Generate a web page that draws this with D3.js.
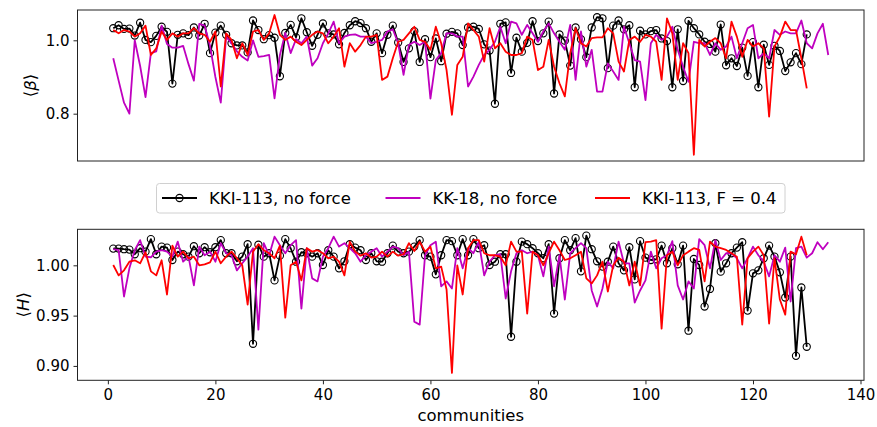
<!DOCTYPE html>
<html>
<head>
<meta charset="utf-8">
<script src="https://cdn.jsdelivr.net/npm/d3@7"></script>
<style>
  body { margin: 0; background: #fff; }
  text { font-family: "DejaVu Sans", sans-serif; fill: #000; }
</style>
</head>
<body>
<div id="chart"></div>
<script>
// Values, community index starts at 1
const betaKKI113 = [1.033, 1.041, 1.031, 1.032, 1.013, 1.048, 1.001, 0.995, 1.012, 1.037,
  1.023, 0.882, 1.015, 1.019, 1.014, 1.035, 1.013, 1.045, 0.965, 1.021,
  1.040, 1.015, 0.992, 0.986, 0.986, 0.967, 1.054, 1.028, 1.003, 1.014,
  1.007, 0.902, 1.020, 1.042, 1.008, 1.060, 1.022, 0.985, 1.015, 1.046,
  1.019, 1.016, 0.989, 1.020, 1.041, 1.052, 1.047, 1.033, 0.996, 1.019,
  0.965, 1.015, 1.040, 0.994, 0.941, 0.978, 1.025, 0.941, 1.003, 0.954,
  1.005, 0.943, 1.018, 1.023, 1.019, 0.987, 1.035, 1.037, 1.031, 0.989,
  0.972, 0.827, 1.045, 1.049, 0.911, 1.007, 0.969, 0.993, 1.052, 0.998,
  1.019, 1.051, 0.855, 1.016, 0.999, 0.931, 1.035, 1.003, 0.954, 1.035,
  1.063, 1.060, 0.924, 1.040, 1.054, 1.030, 1.041, 0.872, 1.026, 1.016,
  1.025, 1.028, 1.005, 0.998, 0.872, 1.030, 0.889, 1.053, 1.033, 1.016,
  0.996, 0.990, 0.969, 1.043, 0.932, 0.951, 0.930, 0.980, 0.903, 0.995,
  0.872, 0.988, 0.933, 0.985, 0.971, 0.916, 0.940, 0.965, 0.935, 1.016];

const betaKK18 = [0.951, 0.890, 0.830, 0.800, 1.000, 0.930, 0.845, 0.965, 0.970, 1.040,
  0.990, 0.980, 0.980, 0.985, 0.935, 0.890, 1.045, 1.040, 0.985, 0.900,
  0.830, 1.010, 0.992, 0.970, 0.955, 0.945, 1.000, 0.955, 0.957, 0.960,
  0.842, 0.960, 1.020, 0.965, 1.003, 0.992, 1.010, 0.931, 0.951, 0.992,
  1.019, 1.051, 0.992, 1.010, 1.015, 1.016, 1.010, 1.010, 0.992, 0.996,
  1.001, 1.024, 1.030, 0.992, 0.906, 0.987, 0.996, 0.987, 0.996, 0.841,
  0.946, 0.965, 1.019, 1.019, 1.010, 1.010, 0.874, 0.901, 0.933, 0.960,
  0.974, 0.996, 1.037, 0.992, 1.051, 1.046, 1.015, 1.042, 1.019, 0.996,
  1.024, 1.046, 1.019, 0.996, 0.974, 1.042, 0.892, 1.024, 0.928, 0.974,
  0.860, 0.860, 0.937, 0.915, 0.892, 1.037, 0.992, 0.946, 0.942, 0.837,
  0.992, 1.015, 1.001, 1.010, 1.037, 0.974, 0.928, 0.887, 0.996, 0.992,
  0.992, 0.960, 0.992, 0.974, 0.983, 1.010, 0.951, 0.992, 1.033, 1.042,
  0.951, 0.965, 0.951, 1.028, 1.015, 1.024, 1.019, 1.019, 1.054, 0.992,
  0.978, 1.019, 1.045, 0.960];

const betaKKI113F = [1.028, 1.019, 1.028, 1.024, 1.010, 1.019, 1.040, 0.960, 0.978, 1.024,
  1.001, 1.019, 1.010, 1.019, 1.019, 1.033, 1.019, 1.015, 0.996, 1.024,
  0.874, 1.019, 1.001, 0.951, 0.992, 0.960, 1.024, 1.028, 1.001, 1.019,
  1.069, 1.015, 1.001, 1.010, 0.996, 0.987, 1.001, 1.015, 1.024, 1.019,
  0.992, 1.010, 1.033, 0.928, 0.992, 0.969, 0.987, 1.010, 1.010, 1.015,
  0.892, 0.901, 0.951, 0.996, 1.001, 1.019, 1.037, 1.001, 0.996, 0.974,
  1.037, 0.992, 0.919, 0.797, 0.933, 0.955, 1.046, 1.028, 1.010, 0.942,
  1.033, 0.978, 0.992, 0.969, 0.960, 0.960, 0.965, 1.010, 1.001, 0.919,
  0.928, 1.001, 0.928, 0.883, 0.847, 0.965, 1.033, 0.992, 0.983, 1.006,
  1.008, 1.008, 1.033, 1.019, 0.942, 0.915, 1.001, 1.010, 0.996, 1.015,
  1.010, 0.996, 0.892, 1.060, 1.019, 0.892, 0.992, 0.965, 0.688, 1.001,
  0.983, 0.996, 1.006, 0.992, 0.951, 1.051, 1.010, 0.955, 1.001, 0.983,
  0.992, 0.978, 0.792, 0.983, 1.010, 1.051, 1.028, 1.028, 0.951, 0.869];

const hKKI113 = [1.0166, 1.0166, 1.016, 1.0156, 1.011, 1.017, 1.0136, 1.026, 1.011, 1.0186,
  1.0176, 1.0053, 1.0136, 1.011, 1.0086, 1.019, 1.012, 1.018, 1.013, 1.018,
  1.025, 1.012, 1.012, 1.004, 1.0086, 1.021, 0.922, 1.0205, 1.0086, 1.012,
  0.985, 1.0096, 1.026, 1.017, 1.0036, 1.013, 1.012, 1.0086, 1.012, 1.0003,
  1.015, 1.0086, 0.997, 1.004, 1.021, 1.0176, 1.015, 1.0053, 1.012, 1.004,
  1.0036, 1.012, 1.0196, 1.0136, 1.012, 1.0136, 1.0186, 1.025, 1.01, 1.0086,
  0.991, 1.01, 1.025, 1.024, 1.01, 1.026, 1.01, 1.026, 1.017, 1.02,
  1.0003, 1.0036, 1.011, 1.011, 0.929, 1.0036, 1.0235, 1.021, 1.017, 1.012,
  1.007, 1.021, 0.952, 1.007, 1.025, 1.015, 1.027, 0.994, 1.0295, 1.016,
  1.004, 0.9987, 1.0036, 1.0186, 1.002, 0.995, 1.018, 0.986, 1.024, 1.0076,
  1.0053, 1.006, 1.0196, 1.002, 1.017, 1.001, 1.0196, 0.935, 1.0063, 1.0003,
  0.959, 0.9765, 1.022, 0.9937, 1.002, 1.012, 1.0176, 1.023, 0.955, 0.992,
  0.995, 1.007, 1.0196, 1.0086, 0.993, 0.968, 1.0086, 0.910, 0.978, 0.919];

const hKK18 = [1.016, 1.015, 0.969, 0.997, 1.015, 1.025, 1.0086, 1.008, 1.0136, 1.015,
  1.0136, 1.0086, 1.0235, 1.0036, 1.0086, 0.980, 1.0186, 1.01, 1.0136, 1.0036,
  1.022, 1.012, 1.01, 0.995, 1.002, 1.0086, 1.017, 0.936, 1.022, 1.01,
  1.0285, 1.02, 1.012, 1.02, 1.025, 0.957, 1.017, 0.987, 0.984, 1.0086,
  1.017, 1.0285, 1.0186, 1.022, 1.017, 1.012, 1.0036, 1.01, 1.0136, 1.017,
  1.0086, 1.0136, 1.0186, 1.017, 1.01, 1.0136, 0.944, 0.941, 1.01, 1.02,
  1.0235, 0.979, 0.984, 0.977, 1.017, 0.997, 1.017, 1.012, 1.0235, 0.99,
  1.0036, 1.01, 1.011, 0.967, 0.994, 1.012, 1.015, 1.012, 1.0136, 1.01,
  0.989, 1.0186, 0.979, 1.01, 0.966, 1.012, 1.017, 1.022, 1.017, 0.975,
  0.959, 0.977, 1.0036, 0.997, 1.0235, 1.002, 1.002, 0.963, 0.975, 0.985,
  1.0136, 0.997, 1.007, 1.01, 1.024, 0.98, 0.966, 0.984, 0.977, 1.026,
  1.02, 0.997, 1.025, 1.0053, 1.012, 1.012, 1.007, 0.997, 1.007, 1.0186,
  1.01, 1.0036, 0.989, 1.01, 1.0036, 1.0176, 0.964, 1.017, 1.0186, 1.0076,
  1.012, 1.023, 1.016, 1.023];

const hKKI113F = [1.0003, 0.990, 0.995, 1.0036, 1.005, 1.002, 1.013, 0.994, 0.990, 1.005,
  0.971, 1.0196, 1.0086, 1.0136, 1.007, 1.0086, 1.0, 1.001, 1.003, 1.0136,
  1.002, 1.0086, 1.0136, 1.007, 1.0, 0.961, 1.0136, 1.021, 1.015, 1.012,
  1.007, 1.0196, 0.948, 1.0, 1.0036, 0.985, 1.017, 1.0136, 1.015, 1.012,
  1.007, 1.0086, 1.0036, 0.990, 1.0235, 1.0136, 1.0096, 1.012, 1.0076, 1.0086,
  1.0136, 1.0086, 1.0136, 1.0096, 1.011, 1.022, 1.0143, 1.0235, 1.0136, 1.0186,
  0.997, 0.9987, 0.976, 0.893, 1.0, 0.971, 1.017, 1.025, 1.025, 1.012,
  1.01, 1.01, 1.0086, 1.0, 1.0235, 1.0136, 1.0136, 0.952, 1.0136, 1.01,
  1.0, 1.012, 1.0235, 1.015, 1.0053, 1.007, 1.01, 1.0136, 0.987, 0.982,
  0.99, 1.0036, 0.974, 1.0, 1.0076, 1.0036, 0.98, 1.0036, 0.98, 1.023,
  1.0235, 1.025, 0.937, 1.01, 1.0136, 1.0, 1.01, 1.0136, 1.017, 1.0153,
  0.984, 1.0235, 1.0186, 1.017, 1.0153, 1.012, 1.0086, 0.941, 1.007, 1.0136,
  1.0186, 1.01, 0.942, 1.007, 0.966, 0.951, 1.0136, 1.011, 1.0285, 1.01];

const seriesNames = ["KKI-113, no force", "KK-18, no force", "KKI-113, F = 0.4"];
const seriesColors = ["#000000", "#bf00bf", "#ff0000"];
const betaTicks = [0.8, 1.0];
const hTicks = [0.90, 0.95, 1.00];
const xTicks = [0, 20, 40, 60, 80, 100, 120, 140];

const W = 877, H = 427;
const left = 77.5, right = 864;

const svg = d3.select("#chart").append("svg")
  .attr("width", W)
  .attr("height", H);

const x = d3.scaleLinear().domain([-5.65, 140.65]).range([left, right]);

const yBeta = d3.scaleLinear().domain([0.671, 1.0826]).range([161, 10]);
const yH = d3.scaleLinear().domain([0.8857, 1.0358]).range([380.3, 229.3]);

const toPoints = arr => arr.map((v, i) => ({ c: i + 1, v: v }));

function drawPanel(y, data, ticks, fmt, label, labelX) {
  const [y0, y1] = y.range();
  const g = svg.append("g");

  // series, in legend order
  data.forEach((arr, k) => {
    const pts = toPoints(arr);
    const line = d3.line().x(d => x(d.c)).y(d => y(d.v));
    g.append("path")
      .datum(pts)
      .attr("fill", "none")
      .attr("stroke", seriesColors[k])
      .attr("stroke-width", 1.8)
      .attr("stroke-linejoin", "round")
      .attr("d", line);
    if (k === 0) {
      g.selectAll(null)
        .data(pts)
        .enter()
        .append("circle")
        .attr("cx", d => x(d.c))
        .attr("cy", d => y(d.v))
        .attr("r", 3.6)
        .attr("fill", "none")
        .attr("stroke", "#000")
        .attr("stroke-width", 1.1);
    }
  });

  // frame
  svg.append("rect")
    .attr("x", left).attr("y", y1)
    .attr("width", right - left).attr("height", y0 - y1)
    .attr("fill", "none").attr("stroke", "#222").attr("stroke-width", 1);

  // y axis
  const yAxis = svg.append("g")
    .attr("transform", `translate(${left},0)`)
    .call(d3.axisLeft(y).tickValues(ticks).tickFormat(d3.format(fmt)).tickSize(4).tickPadding(4));
  yAxis.select(".domain").remove();
  yAxis.selectAll("text").style("font-size", "15px").style("font-family", "DejaVu Sans");
  yAxis.selectAll("line").attr("stroke", "#222");

  // y label with mathtext-like brackets
  const t = svg.append("text")
    .attr("transform", `translate(${labelX},${(y0 + y1) / 2}) rotate(-90)`)
    .attr("text-anchor", "middle")
    .attr("dy", "0.35em")
    .style("font-size", "16.5px");
  t.append("tspan").text("\u27e8");
  t.append("tspan").style("font-style", "italic").text(label);
  t.append("tspan").text("\u27e9");
}

drawPanel(yBeta, [betaKKI113, betaKK18, betaKKI113F], betaTicks, ".1f", "\u03b2", 30);
drawPanel(yH, [hKKI113, hKK18, hKKI113F], hTicks, ".2f", "H", 23);

// x axis on the lower panel
const xAxis = svg.append("g")
  .attr("transform", "translate(0,380.3)")
  .call(d3.axisBottom(x).tickValues(xTicks).tickSize(4).tickPadding(5));
xAxis.select(".domain").remove();
xAxis.selectAll("text").style("font-size", "15px").style("font-family", "DejaVu Sans");
xAxis.selectAll("line").attr("stroke", "#222");

svg.append("text")
  .attr("x", (left + right) / 2)
  .attr("y", 421)
  .attr("text-anchor", "middle")
  .style("font-size", "16.5px")
  .text("communities");

// legend between the panels
const legend = svg.append("g");
legend.append("rect")
  .attr("x", 156.5).attr("y", 183.5)
  .attr("width", 628.5).attr("height", 29.5)
  .attr("rx", 3)
  .attr("fill", "#fff")
  .attr("stroke", "#d0d0d0");

const legendX = [162, 385.5, 595];
seriesNames.forEach((name, k) => {
  const lx = legendX[k];
  legend.append("line")
    .attr("x1", lx).attr("x2", lx + 35)
    .attr("y1", 198).attr("y2", 198)
    .attr("stroke", seriesColors[k])
    .attr("stroke-width", 1.8);
  if (k === 0) {
    legend.append("circle")
      .attr("cx", lx + 17.5).attr("cy", 198).attr("r", 3.6)
      .attr("fill", "none").attr("stroke", "#000").attr("stroke-width", 1.1);
  }
  legend.append("text")
    .attr("x", lx + 47)
    .attr("y", 204)
    .style("font-size", "16.5px")
    .text(name);
});
</script>
</body>
</html>
